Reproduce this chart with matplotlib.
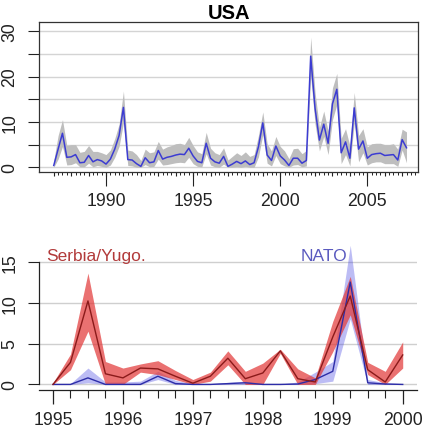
import numpy as np
import matplotlib
matplotlib.use("Agg")
import matplotlib.pyplot as plt

plt.rcParams['font.family'] = ['Liberation Sans', 'DejaVu Sans']

# USA, quarterly 1987.0 - 2007.25
usa_quarters = np.arange(1987.0, 2007.3, 0.25)
usa_mean = [0.4, 4.0, 7.5, 2.2,
            2.3, 2.8, 1.0, 1.1,
            2.6, 1.2, 1.7, 1.4,
            0.7, 1.8, 4.0, 7.0,
            13.2, 1.7, 1.6, 0.8,
            0.2, 2.1, 1.0, 1.2,
            3.7, 1.8, 2.2, 2.4,
            2.7, 2.9, 2.8, 4.2,
            2.5, 1.3, 1.0, 5.3,
            2.0, 1.2, 0.9, 2.4,
            0.2, 0.7, 1.3, 0.8,
            1.4, 0.6, 1.0, 4.5,
            9.8, 2.7, 1.5, 4.7,
            2.5, 1.6, 0.4, 2.0,
            2.0, 0.9, 1.5, 24.5,
            13.0, 6.0, 9.5, 5.3,
            14.0, 17.2, 3.2, 5.6,
            2.0, 13.1, 4.0, 5.8,
            2.0, 2.8, 3.0, 3.1,
            2.6, 2.7, 2.8, 1.6,
            6.1, 4.3]
usa_hi = [1.5, 7.0, 10.5, 4.8,
          5.0, 5.0, 3.3, 3.5,
          4.8, 3.5, 3.5, 3.2,
          2.8, 3.8, 6.3, 9.5,
          16.8, 3.8, 3.6, 2.8,
          1.5, 4.0, 3.2, 3.4,
          5.7, 4.0, 4.5, 4.8,
          5.2, 5.3, 5.0, 6.6,
          4.8, 3.4, 3.0, 7.7,
          4.2, 3.2, 2.8, 4.3,
          1.6, 2.4, 3.2, 2.6,
          3.4, 2.4, 2.8, 7.0,
          12.2, 5.2, 3.6, 6.8,
          4.6, 3.6, 1.9, 4.1,
          4.2, 3.0, 3.7, 28.7,
          16.5, 8.8, 12.4, 8.0,
          17.5, 20.7, 6.4, 8.5,
          4.7, 16.5, 7.0, 8.5,
          4.5, 5.2, 5.3, 5.3,
          5.0, 5.0, 5.2, 4.0,
          8.4, 7.8]
usa_lo = [0.0, 1.8, 4.6, 0.5,
          0.6, 1.0, 0.1, 0.1,
          0.9, 0.1, 0.4, 0.2,
          0.0, 0.5, 2.2, 4.6,
          9.8, 0.4, 0.3, 0.0,
          0.0, 0.6, 0.1, 0.2,
          1.8, 0.5, 0.6, 0.8,
          1.0, 1.1, 1.0, 2.2,
          0.8, 0.2, 0.1, 3.0,
          0.5, 0.1, 0.0, 0.7,
          0.0, 0.0, 0.1, 0.0,
          0.2, 0.0, 0.0, 2.3,
          7.2, 0.9, 0.3, 2.6,
          0.8, 0.3, 0.0, 0.5,
          0.6, 0.1, 0.3, 20.0,
          9.5, 3.6, 6.8, 2.8,
          10.5, 13.8, 0.8, 2.8,
          0.3, 9.8, 1.2, 3.2,
          0.5, 1.0, 1.2, 1.2,
          0.8, 0.8, 0.8, 0.2,
          3.8, 1.0]

# Serbia/Yugo. vs NATO, quarterly 1995.0 - 2000.0
yug_quarters = np.arange(1995.0, 2000.01, 0.25)
serb_mean = [0.0, 2.7, 10.2, 1.3, 0.8, 2.0, 1.9, 1.0, 0.15, 1.0, 3.2,
             0.7, 1.4, 4.1, 0.7, 0.3, 5.8, 10.8, 1.8, 0.3, 3.6]
serb_lo = [0.0, 1.8, 6.5, 0.0, 0.0, 1.5, 1.2, 0.6, 0.0, 0.4, 2.4,
           0.0, 0.0, 3.8, 0.0, 0.0, 4.0, 8.5, 1.2, 0.0, 2.0]
serb_hi = [0.2, 3.7, 13.6, 2.8, 2.0, 2.5, 2.9, 1.7, 0.6, 1.5, 4.1,
           1.6, 2.6, 4.3, 1.9, 0.8, 7.7, 13.2, 2.7, 1.6, 5.2]
nato_mean = [0.0, 0.0, 0.8, 0.0, 0.0, 0.0, 1.0, 0.1, 0.0, 0.0, 0.1,
             0.2, 0.0, 0.0, 0.05, 0.6, 1.6, 12.5, 0.2, 0.05, 0.0]
nato_lo = [0.0, 0.0, 0.2, 0.0, 0.0, 0.0, 0.6, 0.0, 0.0, 0.0, 0.0,
           0.0, 0.0, 0.0, 0.0, 0.1, 0.4, 8.0, 0.0, 0.0, 0.0]
nato_hi = [0.0, 0.1, 2.0, 0.3, 0.3, 0.4, 1.6, 0.5, 0.1, 0.1, 0.25,
           0.4, 0.1, 0.05, 0.3, 1.5, 2.8, 17.0, 0.6, 0.2, 0.1]

W, H = 423, 435
fig = plt.figure(figsize=(W / 100, H / 100), dpi=100)

# ---- top panel: USA ----
ax1 = fig.add_axes([39.3 / W, (H - 173) / H, (418 - 39.3) / W, (173 - 22.7) / H])
ax1.fill_between(usa_quarters, usa_lo, usa_hi, color='#bebebe', lw=0)
ax1.plot(usa_quarters, usa_mean, color='#3c3cd2', lw=1.1)
ax1.set_xlim(1986.17, 2007.91)
ax1.set_ylim(-1.04, 32.1)
ax1.set_axisbelow(True)
ax1.yaxis.grid(True, color='#d4d4d4', lw=1.0)
for s in ax1.spines.values():
    s.set_color('#333333')
    s.set_linewidth(0.9)

ax1.set_yticks(range(0, 31, 5))
ax1.set_yticklabels(['0', '', '10', '', '20', '', '30'])
ax1.set_xticks([1990, 1995, 2000, 2005])
ax1.set_xticks(np.arange(1987, 2007.8, 0.25), minor=True)
ax1.tick_params(axis='x', which='major', length=10, width=0.8, pad=4.4, labelsize=12.7, colors='#222222')
ax1.tick_params(axis='x', which='minor', length=1.8, width=0.7, color='#222222')
ax1.tick_params(axis='y', length=8, width=0.8, pad=7, labelsize=12.7, labelrotation=90, colors='#222222')
for lab in ax1.get_yticklabels():
    lab.set_va('center')

yr = ax1.secondary_xaxis('bottom')
yr.set_xticks(np.arange(1987, 2008, 1))
yr.set_xticklabels([])
yr.tick_params(length=3.2, width=0.8, color='#222222')
yr.spines['bottom'].set_visible(False)

ax1.set_title('USA', fontsize=14.5, fontweight='bold', pad=3)

# ---- bottom panel: Serbia/Yugo. vs NATO ----
ax2 = fig.add_axes([39 / W, (H - 391) / H, (416.7 - 39) / W, (391 - 240.7) / H])
ax2.fill_between(yug_quarters, nato_lo, nato_hi, color='#3434e0', alpha=0.33, lw=0, clip_on=False)
ax2.fill_between(yug_quarters, serb_lo, serb_hi, color='#e23a3a', alpha=0.72, lw=0, clip_on=False)
ax2.plot(yug_quarters, nato_mean, color='#2d2da8', lw=1.0)
ax2.plot(yug_quarters, serb_mean, color='#8b1a1a', lw=1.0)
ax2.set_xlim(1994.8, 2000.2)
ax2.set_ylim(-0.68, 17.68)
ax2.set_axisbelow(True)
ax2.yaxis.grid(True, color='#cfcfcf', lw=1.0)
ax2.spines['top'].set_visible(False)
ax2.spines['right'].set_visible(False)
ax2.spines['left'].set_bounds(0, 15)
for s in ('left', 'bottom'):
    ax2.spines[s].set_color('#222222')
    ax2.spines[s].set_linewidth(0.9)

ax2.set_yticks([0, 5, 10, 15])
ax2.set_xticks(range(1995, 2001))
ax2.set_xticks(yug_quarters, minor=True)
ax2.tick_params(axis='x', which='major', length=10.4, width=0.9, pad=4.6, labelsize=12.7, colors='#222222')
ax2.tick_params(axis='x', which='minor', length=5.4, width=0.8, color='#222222')
ax2.tick_params(axis='y', length=8, width=0.8, pad=7, labelsize=12.7, labelrotation=90, colors='#222222')
for lab in ax2.get_yticklabels():
    lab.set_va('center')

ax2.text(1995.615, 15.2, 'Serbia/Yugo.', color='#b23a3a', fontsize=12.5, ha='center', va='baseline')
ax2.text(1998.87, 15.2, 'NATO', color='#5a5abf', fontsize=12.5, ha='center', va='baseline')

fig.savefig('out.png', dpi=100)
